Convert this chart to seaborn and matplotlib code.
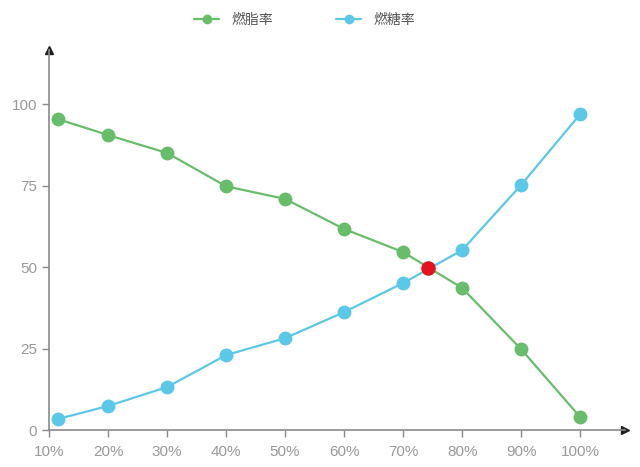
import matplotlib
matplotlib.use('Agg')
import matplotlib.pyplot as plt
import seaborn as sns
import pandas as pd

sns.set_theme(style="white")
plt.rcParams['font.family'] = ['Noto Sans CJK SC', 'DejaVu Sans']

# 数据
x_pos = [11.5, 20, 30, 40, 50, 60, 70, 80, 90, 100]
fat = [95.4, 90.5, 85.0, 74.8, 70.9, 61.7, 54.6, 43.6, 24.8, 4.0]
sugar = [3.4, 7.4, 13.2, 23.0, 28.2, 36.2, 45.1, 55.2, 75.2, 96.9]
cross_x, cross_y = [74.2], [49.7]
xtick_vals = [10, 20, 30, 40, 50, 60, 70, 80, 90, 100]
xtick_labels = ['10%', '20%', '30%', '40%', '50%', '60%', '70%', '80%', '90%', '100%']
ytick_vals = [0, 25, 50, 75, 100]

df = pd.DataFrame({
    'x': x_pos * 2,
    'y': fat + sugar,
    'kind': ['燃脂率'] * len(fat) + ['燃糖率'] * len(sugar),
})

green = '#68bd6b'
blue = '#5ac8e6'
grey = '#8a8a8a'

fig = plt.figure(figsize=(6.4, 4.67), dpi=100)
ax = fig.add_axes([0.0766, 0.079, 0.9, 0.814])

sns.lineplot(data=df, x='x', y='y', hue='kind', palette=[green, blue],
             marker='o', markersize=10, markeredgewidth=0, linewidth=1.6, ax=ax)
ax.scatter(cross_x, cross_y, s=110, color='#e3141f', zorder=5, linewidths=0)

ax.set_xlim(10, 107.6)
ax.set_ylim(0, 116.6)
ax.set_xticks(xtick_vals)
ax.set_xticklabels(xtick_labels)
ax.set_yticks(ytick_vals)
ax.set_xlabel('')
ax.set_ylabel('')
ax.tick_params(axis='both', colors=grey, labelcolor='#999999', labelsize=11,
               length=5, width=1, direction='out', bottom=True, left=True)
ax.tick_params(axis='x', pad=6)
for lab in ax.get_xticklabels() + ax.get_yticklabels():
    lab.set_family(['Liberation Sans', 'DejaVu Sans'])

for side in ['top', 'right']:
    ax.spines[side].set_visible(False)
for side in ['left', 'bottom']:
    ax.spines[side].set_color(grey)
    ax.spines[side].set_linewidth(1.2)

# 箭头
ax.plot(1, 0, '>', color='#222222', markersize=6, transform=ax.transAxes, clip_on=False)
ax.plot(0, 1, '^', color='#222222', markersize=6, transform=ax.transAxes, clip_on=False)

leg = ax.legend(loc='center', bbox_to_anchor=(0.444, 1.079), ncol=2, frameon=False,
                fontsize=10, handlelength=1.8, handletextpad=0.9, columnspacing=4.5,
                labelcolor='#555555')
for h in leg.legend_handles:
    h.set_markersize(7)

fig.savefig('out.png', dpi=100)
